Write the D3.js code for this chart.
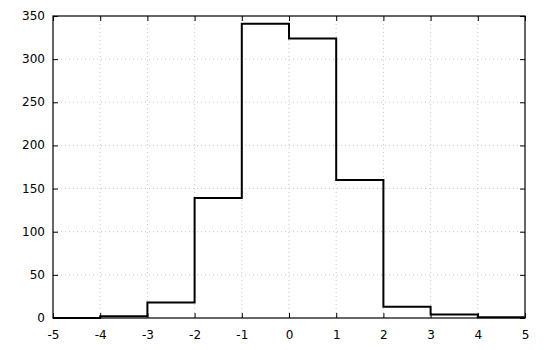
<!DOCTYPE html>
<html>
<head>
<meta charset="utf-8">
<script src="https://cdn.jsdelivr.net/npm/d3@7"></script>
<style>
  body { margin: 0; background: #fff; }
  svg text { font-family: "DejaVu Sans", sans-serif; font-size: 12px; fill: #000; }
</style>
</head>
<body>
<svg id="chart" width="550" height="350"></svg>
<script>
// histogram bins (left edges) and counts
const binEdges = [-5, -4, -3, -2, -1, 0, 1, 2, 3, 4, 5];
const counts = [0, 2, 18, 139, 341, 324, 160, 13, 4, 1];
const xTicks = [-5, -4, -3, -2, -1, 0, 1, 2, 3, 4, 5];
const yTicks = [0, 50, 100, 150, 200, 250, 300, 350];

var margin = { top: 16, right: 25, bottom: 32, left: 53 };
var width = 550 - margin.left - margin.right;
var height = 350 - margin.top - margin.bottom;

var svg = d3.select("#chart");
var g = svg.append("g")
  .attr("transform", "translate(" + margin.left + "," + margin.top + ")");

var x = d3.scaleLinear().domain([-5, 5]).range([0, width]);
var y = d3.scaleLinear().domain([0, 350]).range([height, 0]);

// plain hyphen for negatives, like the original
var fmt = d => String(d);

// dotted grid
g.append("g").selectAll("line")
  .data(xTicks.slice(1, -1))
  .enter().append("line")
  .attr("x1", d => x(d)).attr("x2", d => x(d))
  .attr("y1", 0).attr("y2", height)
  .attr("stroke", "#c8c8c8").attr("stroke-dasharray", "1,3");

g.append("g").selectAll("line")
  .data(yTicks.slice(1, -1))
  .enter().append("line")
  .attr("x1", 0).attr("x2", width)
  .attr("y1", d => y(d)).attr("y2", d => y(d))
  .attr("stroke", "#c8c8c8").attr("stroke-dasharray", "1,3");

// axes, ticks pointing inwards
function styleAxis(sel) {
  sel.select(".domain").remove();
  sel.selectAll(".tick line").attr("stroke", "#000");
  sel.selectAll("text").attr("font-size", null).attr("font-family", null)
    .attr("dy", null).attr("dominant-baseline", "middle");
}

g.append("g")
  .attr("transform", "translate(0," + height + ")")
  .call(d3.axisBottom(x).tickValues(xTicks).tickSize(-5).tickPadding(17).tickFormat(fmt))
  .call(styleAxis);

g.append("g")
  .call(d3.axisTop(x).tickValues(xTicks).tickSize(-5).tickFormat(""))
  .call(styleAxis);

g.append("g")
  .call(d3.axisLeft(y).tickValues(yTicks).tickSize(-5).tickPadding(8).tickFormat(fmt))
  .call(styleAxis);

g.append("g")
  .attr("transform", "translate(" + width + ",0)")
  .call(d3.axisRight(y).tickValues(yTicks).tickSize(-5).tickFormat(""))
  .call(styleAxis);

// frame
g.append("rect")
  .attr("width", width).attr("height", height)
  .attr("fill", "none").attr("stroke", "#000").attr("stroke-width", 1.2);

// step outline of the histogram
var pts = [];
counts.forEach(function (c, i) {
  pts.push([binEdges[i], c]);
  pts.push([binEdges[i + 1], c]);
});

var line = d3.line()
  .x(d => x(d[0]))
  .y(d => y(d[1]));

g.append("path")
  .attr("d", line(pts))
  .attr("fill", "none")
  .attr("stroke", "#000")
  .attr("stroke-width", 2);
</script>
</body>
</html>
